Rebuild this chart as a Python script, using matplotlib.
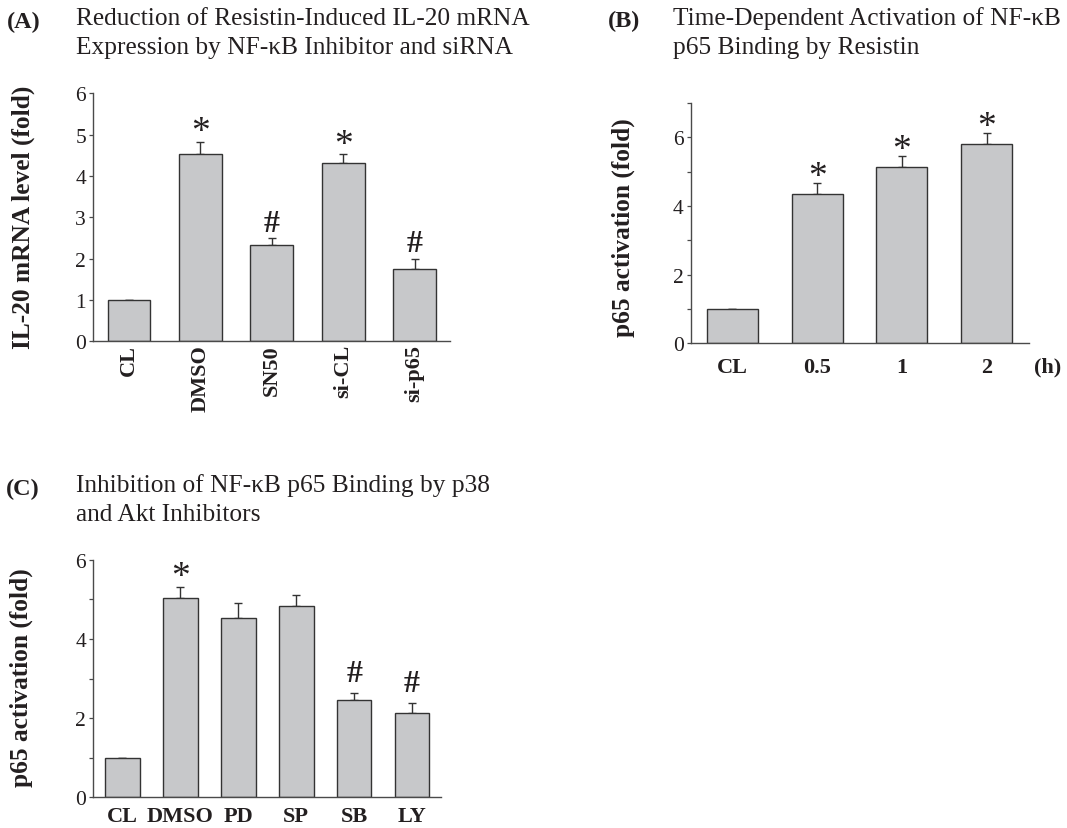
import matplotlib
matplotlib.use('Agg')
import matplotlib.pyplot as plt
import numpy as np

# data
a_labels = ['CL', 'DMSO', 'SN50', 'si-CL', 'si-p65']
a_means = [1.0, 4.52, 2.34, 4.31, 1.75]
a_errs = [0.0, 0.31, 0.15, 0.22, 0.24]
a_marks = ['', '*', '#', '*', '#']

b_labels = ['CL', '0.5', '1', '2']
b_means = [1.0, 4.35, 5.13, 5.81]
b_errs = [0.0, 0.31, 0.33, 0.32]
b_marks = ['', '*', '*', '*']

c_labels = ['CL', 'DMSO', 'PD', 'SP', 'SB', 'LY']
c_means = [1.0, 5.03, 4.52, 4.83, 2.46, 2.12]
c_errs = [0.0, 0.27, 0.39, 0.29, 0.17, 0.25]
c_marks = ['', '*', '', '', '#', '#']

plt.rcParams['font.family'] = ['Liberation Serif', 'DejaVu Serif']
TXT = '#231f20'
BAR = '#c7c8ca'
EDGE = '#333333'
AXC = '#4a4a4a'

W, H = 1067, 829
fig = plt.figure(figsize=(W / 100, H / 100), dpi=100)


def px_axes(l, t, r, b):
    return fig.add_axes([l / W, 1 - b / H, (r - l) / W, (b - t) / H])


def draw_panel(ax, labels, means, errs, marks, xlim, ylim, yticks, minor,
               rot, xpad, star_off, hash_off):
    x = np.arange(len(labels))
    ax.bar(x, means, width=0.6, color=BAR, edgecolor=EDGE, linewidth=1.0,
           zorder=2)
    lower = np.zeros(len(errs))
    ax.errorbar(x, means, yerr=[lower, errs], fmt='none', ecolor=EDGE,
                elinewidth=1.0, capsize=3, capthick=1.0, zorder=1)
    for xi, m, e, s in zip(x, means, errs, marks):
        if s == '*':
            ax.annotate(s, (xi, m + e), xytext=(0, star_off), textcoords='offset points',
                        ha='center', va='center', fontsize=27, color=TXT)
        elif s == '#':
            ax.annotate(s, (xi, m + e), xytext=(0, hash_off), textcoords='offset points',
                        ha='center', va='center', fontsize=23, fontweight='bold',
                        color=TXT)
    ax.set_xlim(*xlim)
    ax.set_ylim(*ylim)
    ax.set_yticks(yticks)
    if minor:
        ax.set_yticks(minor, minor=True)
    ax.set_xticks(x)
    ax.set_xticklabels(labels, rotation=rot, fontweight='bold', fontsize=16,
                       color=TXT)
    ax.tick_params(axis='x', length=0, pad=xpad)
    ax.tick_params(axis='y', which='both', direction='out', length=2.8,
                   width=0.9, color=AXC, labelsize=15.5, labelcolor=TXT, pad=2.5)
    for sp in ['top', 'right']:
        ax.spines[sp].set_visible(False)
    for sp in ['left', 'bottom']:
        ax.spines[sp].set_color(AXC)
        ax.spines[sp].set_linewidth(1.0)


# (A)
axA = px_axes(93.3, 94.3, 450.4, 342.3)
draw_panel(axA, a_labels, a_means, a_errs, a_marks, (-0.5, 4.5), (0, 6),
           range(7), None, 90, 2, 7, 11)
axA.set_ylabel('IL-20 mRNA level (fold)', fontweight='bold', fontsize=18.3,
               color=TXT)
axA.yaxis.set_label_coords(-0.162, 0.505)

# (B)
axB = px_axes(691, 104, 1029.3, 344.3)
draw_panel(axB, b_labels, b_means, b_errs, b_marks, (-0.485, 3.5), (0, 7),
           [0, 2, 4, 6], [1, 3, 5, 7], 0, 10, 4.5, 10)
axB.set_ylabel('p65 activation (fold)', fontweight='bold', fontsize=18.3,
               color=TXT)
axB.yaxis.set_label_coords(-0.1655, 0.486)
fig.text(1048 / W, 1 - 367.5 / H, '(h)', ha='center', va='center',
         fontweight='bold', fontsize=16, color=TXT)

# (C)
axC = px_axes(93.3, 560.7, 441, 798.3)
draw_panel(axC, c_labels, c_means, c_errs, c_marks, (-0.5, 5.5), (0, 6),
           [0, 2, 4, 6], [1, 3, 5], 0, 6.5, 7.4, 14.5)
axC.set_ylabel('p65 activation (fold)', fontweight='bold', fontsize=18.3,
               color=TXT)
axC.yaxis.set_label_coords(-0.172, 0.506)

# panel titles
titles = [
    (24, 22, '(A)', 75.8, 8,
     'Reduction of Resistin-Induced IL-20 mRNA\nExpression by NF-\u03baB Inhibitor and siRNA'),
    (624, 21.7, '(B)', 673, 7,
     'Time-Dependent Activation of NF-\u03baB\np65 Binding by Resistin'),
    (22.4, 489, '(C)', 75.9, 474,
     'Inhibition of NF-\u03baB p65 Binding by p38\nand Akt Inhibitors'),
]
for lx, ly, lab, tx, ty, t in titles:
    fig.text(lx / W, 1 - ly / H, lab, ha='center', va='center',
             fontweight='bold', fontsize=17.5, color=TXT)
    fig.text(tx / W, 1 - ty / H, t, ha='left', va='top', fontsize=18.25,
             linespacing=1.42, color=TXT)

fig.savefig('out.png', dpi=100)
